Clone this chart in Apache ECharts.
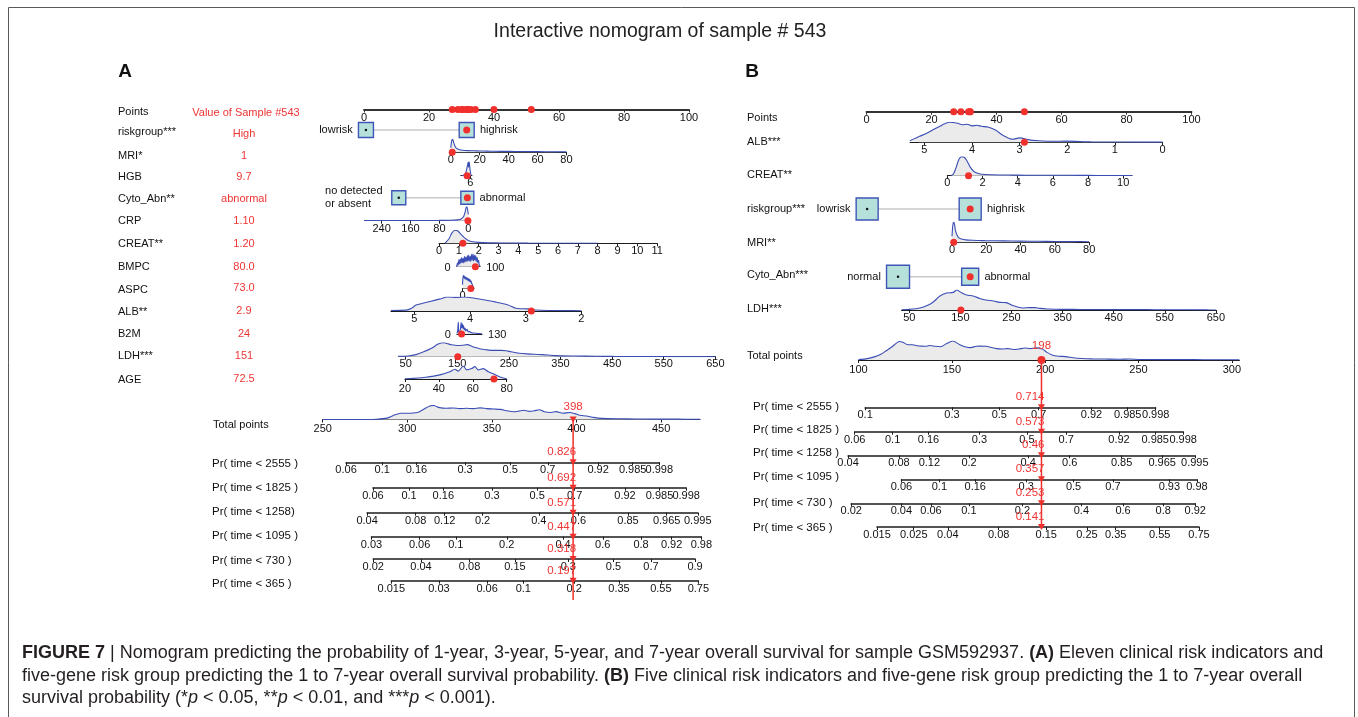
<!DOCTYPE html>
<html>
<head>
<meta charset="utf-8">
<script src="https://cdn.jsdelivr.net/npm/echarts@6/dist/echarts.min.js"></script>
<style>
html, body { margin: 0; padding: 0; background: #fff; }
#chart { width: 1358px; height: 717px; }
</style>
</head>
<body>
<div id="chart"></div>
<script>
// ================= Panel A data =================
const rowNamesA = ['riskgroup***', 'MRI*', 'HGB', 'Cyto_Abn**', 'CRP', 'CREAT**', 'BMPC', 'ASPC', 'ALB**', 'B2M', 'LDH***', 'AGE'];
const sampleTextA = ['High', '1', '9.7', 'abnormal', '1.10', '1.20', '80.0', '73.0', '2.9', '24', '151', '72.5'];

// categorical predictors: levels, points per level, level of the sample
const riskgroupA = { levels: ['lowrisk', 'highrisk'], points: [0.6, 31.6], pick: 1 };
const cytoA = { levels: ['no detected\nor absent', 'abnormal'], points: [10.7, 31.8], pick: 1 };

// continuous predictors: scale = [min, max, points at min, points at max]
const mriA = { scale: [0, 80, 26.7, 62.3], ticks: [0, 20, 40, 60, 80], value: 1,
  density: [[0,0.35],[0.5,0.8],[1,1],[1.5,0.95],[2,0.75],[3,0.45],[4,0.3],[6,0.2],[8,0.16],[12,0.13],[16,0.12],[20,0.1],[25,0.09],[30,0.08],[40,0.07],[50,0.06],[60,0.05],[70,0.04],[80,0.03]] };
const hgbA = { scale: [4, 17, 33.2, 29.8], ticks: [6], value: 9.7,
  density: [[5,0],[6,0.35],[7,0.9],[7.5,1],[8,0.6],[8.5,0.95],[9,0.8],[10,0.5],[11,0.25],[12,0.1],[14,0.03],[16,0]] };
const crpA = { scale: [0, 287, 32.1, 0.2], ticks: [0, 80, 160, 240], value: 1.10,
  density: [[0,0.45],[2,0.8],[4,1],[6,0.95],[9,0.6],[13,0.3],[20,0.12],[30,0.06],[50,0.03],[80,0.02],[120,0.015],[200,0.01],[287,0.01]] };
const creatA = { scale: [0, 11, 23.1, 90.2], ticks: [0,1,2,3,4,5,6,7,8,9,10,11], value: 1.20,
  density: [[0.3,0.02],[0.5,0.35],[0.65,0.8],[0.8,1],[0.95,0.95],[1.1,0.7],[1.3,0.4],[1.5,0.2],[1.8,0.1],[2.2,0.05],[2.8,0.03],[3.5,0.02],[4.5,0.01],[6,0.005],[8,0]] };
const bmpcA = { scale: [0, 100, 28.5, 35.7], ticks: [0, 100], value: 80.0,
  density: [[0,0],[4,0.3],[6,0.1],[10,0.55],[12,0.2],[16,0.6],[18,0.25],[22,0.7],[24,0.3],[28,0.65],[30,0.3],[34,0.8],[36,0.35],[40,0.75],[42,0.4],[46,0.85],[48,0.4],[52,0.9],[54,0.45],[58,0.8],[60,0.4],[64,0.95],[66,0.5],[70,1.0],[72,0.45],[76,0.9],[78,0.5],[82,0.85],[84,0.4],[88,0.7],[90,0.3],[94,0.5],[96,0.2],[100,0.05]] };
const aspcA = { scale: [0, 100, 30.3, 33.8], ticks: [0], value: 73.0,
  density: [[0,0.3],[4,0.8],[8,1],[12,0.85],[16,0.95],[20,0.75],[25,0.9],[30,0.7],[35,0.85],[40,0.65],[45,0.8],[50,0.6],[55,0.75],[60,0.55],[65,0.7],[70,0.5],[75,0.6],[80,0.4],[85,0.35],[90,0.2],[95,0.1],[100,0]] };
const albA = { scale: [2, 5.42, 66.9, 8.3], ticks: [2, 3, 4, 5], value: 2.9,
  density: [[2,0.02],[2.3,0.03],[2.6,0.04],[2.82,0.07],[2.97,0.15],[3.1,0.16],[3.18,0.2],[3.33,0.45],[3.55,0.65],[3.75,0.8],[3.97,0.95],[4.1,1],[4.25,0.97],[4.4,1],[4.55,0.85],[4.7,0.7],[4.85,0.55],[4.97,0.42],[5.05,0.2],[5.15,0.06],[5.42,0.04]] };
const b2mA = { scale: [0, 130, 28.6, 36.3], ticks: [0, 130], value: 24,
  density: [[0,0.05],[4,0.3],[7,1],[9,0.2],[13,0.15],[18,0.4],[22,0.95],[25,0.5],[28,0.85],[31,0.45],[34,0.7],[38,0.35],[42,0.5],[46,0.25],[52,0.4],[58,0.2],[66,0.2],[75,0.1],[90,0.08],[110,0.04],[130,0.02]] };
const ldhA = { scale: [36, 650, 10.6, 108.1], ticks: [50, 150, 250, 350, 450, 550, 650], value: 151,
  density: [[36,0.03],[55,0.05],[70,0.15],[85,0.35],[100,0.6],[113,0.9],[124,1],[132,0.92],[139,0.85],[150,0.8],[160,0.82],[170,0.86],[178,0.75],[185,0.65],[195,0.55],[205,0.5],[220,0.45],[235,0.45],[245,0.42],[254,0.35],[270,0.25],[285,0.2],[300,0.17],[315,0.15],[340,0.08],[376,0.05],[420,0.03],[453,0.02],[500,0.015],[530,0.01],[600,0.005],[650,0]] };
const ageA = { scale: [20, 80, 12.6, 43.9], ticks: [20, 40, 60, 80], value: 72.5,
  density: [[20,0.02],[25,0.05],[30,0.1],[33,0.15],[37,0.22],[40,0.3],[43,0.4],[46.5,0.55],[49.4,0.75],[51.4,0.6],[54.4,1.0],[56.4,0.7],[59.3,0.8],[61.3,0.95],[63.2,0.7],[66.2,0.8],[69.2,0.55],[72.1,0.4],[76,0.15],[80,0.02]] };

const totalA = 398;
const totalRangeA = [250, 473];
const totalTicksA = [250, 300, 350, 400, 450];
const totalDensityA = [[250,0],[275,0],[282,0.02],[288,0.1],[292,0.3],[296,0.45],[300,0.45],[306,0.5],[310,0.75],[313,0.95],[315.5,1],[319,0.85],[323,0.8],[327,0.82],[331,0.78],[335,0.8],[339,0.78],[343,0.83],[347,0.78],[351,0.75],[355,0.72],[359,0.62],[363,0.55],[366,0.6],[369,0.66],[372,0.58],[375,0.62],[378,0.7],[381,0.55],[385,0.5],[388,0.56],[392,0.45],[396,0.5],[399,0.42],[402,0.3],[406,0.25],[410,0.15],[415,0.08],[425,0.05],[435,0.04],[445,0.03],[455,0.03],[465,0.02],[473,0.02]];

const prNamesA = ['Pr( time < 2555 )', 'Pr( time < 1825 )', 'Pr( time < 1258)', 'Pr( time < 1095 )', 'Pr( time < 730 )', 'Pr( time < 365 )'];
const prAtTotalA = [0.826, 0.692, 0.571, 0.447, 0.318, 0.197];
const prTicksA = [
  [0.06, 0.1, 0.16, 0.3, 0.5, 0.7, 0.92, 0.985, 0.998],
  [0.06, 0.1, 0.16, 0.3, 0.5, 0.7, 0.92, 0.985, 0.998],
  [0.04, 0.08, 0.12, 0.2, 0.4, 0.6, 0.85, 0.965, 0.995],
  [0.03, 0.06, 0.1, 0.2, 0.4, 0.6, 0.8, 0.92, 0.98],
  [0.02, 0.04, 0.08, 0.15, 0.3, 0.5, 0.7, 0.9],
  [0.015, 0.03, 0.06, 0.1, 0.2, 0.35, 0.55, 0.75]
];
const betaA = 0.0249; // log-hazard change per total point

// ================= Panel B data =================
const rowNamesB = ['ALB***', 'CREAT**', 'riskgroup***', 'MRI**', 'Cyto_Abn***', 'LDH***'];

const albB = { scale: [0, 5.3, 91.1, 13.4], ticks: [0, 1, 2, 3, 4, 5], value: 2.9,
  density: [[0,0.01],[0.5,0.01],[1,0.015],[1.5,0.02],[2.05,0.06],[2.3,0.05],[2.6,0.08],[2.8,0.12],[3.0,0.22],[3.15,0.15],[3.35,0.35],[3.5,0.6],[3.65,0.75],[3.8,0.8],[3.9,0.85],[4.0,0.82],[4.1,0.9],[4.2,0.88],[4.3,0.95],[4.47,1],[4.6,0.9],[4.67,0.8],[4.8,0.65],[4.95,0.45],[5.1,0.3],[5.3,0.08]] };
const creatB = { scale: [0, 10.5, 24.9, 81.7], ticks: [0, 2, 4, 6, 8, 10], value: 1.20,
  density: [[0.2,0],[0.35,0.1],[0.5,0.45],[0.65,0.85],[0.8,1],[0.95,0.97],[1.1,0.8],[1.3,0.45],[1.5,0.22],[1.8,0.1],[2.2,0.06],[3,0.04],[4,0.03],[5,0.025],[6,0.02],[7,0.02],[8,0.015],[9,0.01],[10,0.01],[10.5,0.01]] };
const riskgroupB = { levels: ['lowrisk', 'highrisk'], points: [0.2, 31.9], pick: 1 };
const mriB = { scale: [0, 80, 26.3, 68.5], ticks: [0, 20, 40, 60, 80], value: 1,
  density: [[0,0.3],[0.5,0.85],[1,1],[1.5,0.9],[2,0.6],[3,0.35],[4,0.22],[6,0.15],[8,0.12],[12,0.1],[16,0.09],[20,0.08],[30,0.07],[40,0.06],[50,0.05],[60,0.04],[70,0.04],[80,0.03]] };
const cytoB = { levels: ['normal', 'abnormal'], points: [9.7, 31.9], pick: 1 };
const ldhB = { scale: [35, 650, 10.8, 107.5], ticks: [50, 150, 250, 350, 450, 550, 650], value: 151,
  density: [[35,0.01],[50,0.03],[71,0.1],[85,0.22],[97,0.4],[110,0.7],[123,0.85],[136,0.88],[143,1],[153,0.85],[162,0.75],[175,0.7],[188,0.58],[200,0.5],[215,0.45],[227,0.38],[240,0.37],[250,0.25],[262,0.15],[272,0.1],[285,0.12],[295,0.12],[305,0.08],[320,0.05],[350,0.03],[371,0.03],[400,0.025],[436,0.02],[470,0.02],[502,0.02],[530,0.015],[567,0.01],[600,0.01],[631,0.005],[650,0]] };

const totalB = 198;
const totalRangeB = [100, 304];
const totalTicksB = [100, 150, 200, 250, 300];
const totalDensityB = [[100,0.03],[104,0.06],[108,0.15],[112,0.3],[115,0.5],[118,0.7],[120.5,0.9],[122,0.97],[124,0.92],[126,0.82],[129,0.8],[131.5,0.75],[134,0.73],[136,0.72],[138,0.76],[141,0.72],[144,0.7],[147,0.85],[150.5,1],[154,0.82],[157,0.7],[160,0.65],[163,0.72],[165,0.73],[168.5,0.72],[171,0.66],[174,0.6],[177,0.58],[180,0.6],[183,0.55],[186,0.58],[189,0.63],[192,0.6],[195,0.64],[198.5,0.58],[201,0.4],[204,0.25],[207,0.2],[211,0.18],[215,0.12],[220,0.08],[225,0.06],[232,0.05],[240,0.04],[245,0.05],[250,0.03],[260,0.02],[270,0.02],[280,0.02],[290,0.01],[304,0.01]];

const prNamesB = ['Pr( time < 2555 )', 'Pr( time < 1825 )', 'Pr( time < 1258 )', 'Pr( time < 1095 )', 'Pr( time < 730 )', 'Pr( time < 365 )'];
const prAtTotalB = [0.714, 0.573, 0.46, 0.357, 0.253, 0.141];
const prTicksB = [
  [0.1, 0.3, 0.5, 0.7, 0.92, 0.985, 0.998],
  [0.06, 0.1, 0.16, 0.3, 0.5, 0.7, 0.92, 0.985, 0.998],
  [0.04, 0.08, 0.12, 0.2, 0.4, 0.6, 0.85, 0.965, 0.995],
  [0.06, 0.1, 0.16, 0.3, 0.5, 0.7, 0.93, 0.98],
  [0.02, 0.04, 0.06, 0.1, 0.2, 0.4, 0.6, 0.8, 0.92],
  [0.015, 0.025, 0.04, 0.08, 0.15, 0.25, 0.35, 0.55, 0.75]
];
const betaB = 0.0262;

// ================= styles =================
const FONT = '"Liberation Sans", Arial, Helvetica, sans-serif';
const BLUE = '#3a4db5';
const FILL = '#ebebeb';
const RED = '#f0302d';
const RED_TXT = '#f03535';
const AX = '#1c1c1c';
const TXT = '#111';

const grids = [], xAxes = [], yAxes = [], series = [], graphics = [];
const labelOnlyAxes = []; // appended after all grid axes so indices stay aligned

function addPanelGrid(rect, xa, ya) {
  grids.push(Object.assign({ outerBoundsMode: 'none', containLabel: false }, rect));
  const i = grids.length - 1;
  xAxes.push(Object.assign({ gridIndex: i, type: 'value', splitLine: { show: false } }, xa));
  yAxes.push(Object.assign({ gridIndex: i, type: 'value', min: 0, max: 1, show: false }, ya || {}));
  return i;
}

function labelStyle(extra) {
  return Object.assign({ margin: 2, fontSize: 11, fontFamily: FONT, color: TXT,
    showMinLabel: true, showMaxLabel: true, hideOverlap: false }, extra || {});
}

function numAxis(min, max, inverse, ticks, labelExtra, tickShow, labelValues) {
  return {
    min, max, inverse,
    axisLine: { onZero: false, lineStyle: { color: AX, width: 1.2 } },
    axisTick: { show: tickShow !== false, customValues: ticks, length: 3, lineStyle: { color: AX, width: 1 } },
    axisLabel: labelStyle(Object.assign({ customValues: labelValues || ticks }, labelExtra || {}))
  };
}

function text(x, y, str, extra) {
  graphics.push({ type: 'text', x, y, silent: true,
    style: Object.assign({ text: str, fontSize: 11, fontFamily: FONT, fill: TXT, verticalAlign: 'middle', align: 'left' }, extra || {}) });
}

const ptsOf = (s, v) => s[2] + (v - s[0]) / (s[1] - s[0]) * (s[3] - s[2]);
const cloglog = p => Math.log(-Math.log(1 - p));

function densitySeries(gi, data) {
  series.push({ type: 'line', xAxisIndex: gi, yAxisIndex: gi, data, symbol: 'none', smooth: 0.25, silent: true,
    lineStyle: { color: BLUE, width: 1.1 }, areaStyle: { color: FILL, opacity: 1 }, z: 2 });
}

function redDot(gi, x, size, extra) {
  series.push(Object.assign({ type: 'scatter', xAxisIndex: gi, yAxisIndex: gi, data: [[x, 0]], symbolSize: size || 7,
    itemStyle: { color: RED, opacity: 1 }, clip: false, silent: true, z: 6 }, extra || {}));
}

function redLabel(str, extra) {
  return Object.assign({ show: true, formatter: str, color: RED_TXT, fontSize: 11.5, fontFamily: FONT,
    textBorderWidth: 0, opacity: 1 }, extra || {});
}

// Builds one nomogram panel.
function buildPanel(P) {
  const contrib = [];
  P.rows.forEach(r => {
    if (r.cat) {
      const c = r.cat;
      const gi = addPanelGrid({ left: P.ptsX0, top: r.y - 12, width: 100 * P.ptsPx, height: 24 },
        { min: 0, max: 100, show: false }, { min: -1, max: 1 });
      series.push({ type: 'line', xAxisIndex: gi, yAxisIndex: gi, symbol: 'none', silent: true, z: 2,
        data: c.points.map(p => [p, 0]), lineStyle: { color: '#c9c9c9', width: 1.5 } });
      series.push({ type: 'scatter', xAxisIndex: gi, yAxisIndex: gi, symbol: 'rect', clip: false, silent: true, z: 3,
        itemStyle: { color: '#b5e1da', borderColor: '#3f55b8', borderWidth: 1.4, opacity: 1 },
        data: c.points.map((p, k) => ({
          value: [p, 0], symbolSize: r.box[k],
          label: { show: true, position: k === 0 ? 'left' : 'right', distance: k === 0 ? r.gapL : 5,
            formatter: r.richLabel && k === 0 ? c.levels[k].split('\n').map(s => '{a|' + s + '}').join('\n') : c.levels[k],
            fontSize: 11, fontFamily: FONT, color: TXT, lineHeight: 13, textBorderWidth: 0,
            rich: { a: { width: r.richW || 0, align: 'left', fontSize: 11, fontFamily: FONT, color: TXT, lineHeight: 13 } } }
        })) });
      series.push({ type: 'scatter', xAxisIndex: gi, yAxisIndex: gi, clip: false, silent: true, z: 4,
        data: c.points.map((p, k) => ({ value: [p, 0], symbolSize: k === c.pick ? 7 : 2.5,
          itemStyle: { color: k === c.pick ? RED : '#111', opacity: 1 } })) });
      contrib.push(c.points[c.pick]);
    } else {
      const v = r.num, s = v.scale;
      const left = P.ptsX0 + Math.min(s[2], s[3]) * P.ptsPx;
      const width = Math.abs(s[3] - s[2]) * P.ptsPx;
      let labelExtra = { margin: r.margin != null ? r.margin : 2 };
      let tickShow = true;
      if (r.endLabels) {
        tickShow = false;
        labelExtra = { margin: 1, verticalAlign: 'middle', alignMinLabel: 'right', alignMaxLabel: 'left',
          formatter: val => (val === s[0] ? val + '  ' : '  ' + val) };
      }
      const gi = addPanelGrid({ left, top: r.y - r.h, width, height: r.h },
        numAxis(s[0], s[1], s[2] > s[3], v.ticks, labelExtra, tickShow));
      densitySeries(gi, v.density);
      redDot(gi, v.value);
      contrib.push(ptsOf(s, v.value));
    }
  });

  // Points scale with each predictor's contribution
  const gp = addPanelGrid({ left: P.ptsX0, top: P.ptsY - 8, width: 100 * P.ptsPx, height: 8 }, {
    min: 0, max: 100,
    axisLine: { onZero: false, lineStyle: { color: '#333', width: 1.8 } },
    axisTick: { customValues: [0, 20, 40, 60, 80, 100], length: 3, lineStyle: { color: '#333' } },
    axisLabel: labelStyle({ customValues: [0, 20, 40, 60, 80, 100], margin: 3 })
  });
  series.push({ type: 'scatter', xAxisIndex: gp, yAxisIndex: gp, data: contrib.map(p => [p, 0]), symbolSize: 7,
    itemStyle: { color: RED, opacity: 1 }, clip: false, silent: true, z: 6 });

  // Total points
  const T = P.total;
  const tWidth = (T.range[1] - T.range[0]) * T.px;
  const gt = addPanelGrid({ left: T.left, top: T.y - T.h, width: tWidth, height: T.h },
    numAxis(T.range[0], T.range[1], false, T.ticks, { margin: 4 }));
  densitySeries(gt, T.density);
  redDot(gt, T.value, T.markerSize, { symbol: T.marker, symbolRotate: T.marker === 'triangle' ? 180 : 0,
    label: redLabel(String(T.value), { position: 'top', distance: 4 }) });

  // Vertical reading line through the probability scales
  const gl = addPanelGrid({ left: T.left, top: T.y, width: tWidth, height: P.lineBottom - T.y },
    { min: T.range[0], max: T.range[1], show: false });
  series.push({ type: 'line', xAxisIndex: gl, yAxisIndex: gl, data: [[T.value, 0], [T.value, 1]], symbol: 'none',
    silent: true, z: 4, lineStyle: { color: RED, width: 1.5 } });

  // Probability scales (complementary log-log in total points)
  P.pr.at.forEach((pAt, i) => {
    const ticks = P.pr.ticks[i];
    const tpOf = p => T.value + (cloglog(p) - cloglog(pAt)) / P.pr.beta;
    const tp = ticks.map(tpOf);
    const last = tp.length - 1;
    const y = P.pr.ys[i];
    const left = T.left + (tp[0] - T.range[0]) * T.px;
    const width = (tp[last] - tp[0]) * T.px;
    const probFormatter = val => {
      let best = 0;
      tp.forEach((t, k) => { if (Math.abs(t - val) < Math.abs(tp[best] - val)) best = k; });
      return String(ticks[best]);
    };
    const probLabel = { margin: 2.5, fontSize: 11, formatter: probFormatter };
    const gi = addPanelGrid({ left, top: y - 10, width, height: 10 },
      numAxis(tp[0], tp[last], false, tp, probLabel, true, tp.slice(0, last)));
    xAxes[gi].axisLine.lineStyle.width = 1.5;
    // the end label sits on its own label-only axis so it is never dropped for crowding
    labelOnlyAxes.push({ gridIndex: gi, type: 'value', position: 'bottom', min: tp[0], max: tp[last],
      axisLine: { show: false }, axisTick: { show: false }, splitLine: { show: false },
      axisLabel: labelStyle(Object.assign({ customValues: [tp[last]] }, probLabel)) });
    redDot(gi, T.value, [7, 6], { symbol: 'triangle', symbolRotate: 180,
      label: redLabel(String(pAt), { position: 'top', align: 'right', distance: 1, offset: [3, 0] }) });
  });

  // Row titles and sample values
  P.labels.forEach(l => text(l[0], l[1], l[2], l[3]));
}

// ================= Panel A layout =================
buildPanel({
  ptsX0: 364, ptsPx: 3.25, ptsY: 109.5,
  rows: [
    { cat: riskgroupA, y: 130, box: [15, 15], gapL: 5 },
    { num: mriA, y: 152.3, h: 13 },
    { num: hgbA, y: 175.7, h: 14 },
    { cat: cytoA, y: 197.7, box: [14, 13], gapL: 8, richLabel: true, richW: 58 },
    { num: crpA, y: 220.7, h: 14, margin: 3 },
    { num: creatA, y: 243.3, h: 13 },
    { num: bmpcA, y: 266.7, h: 13, endLabels: true },
    { num: aspcA, y: 288.5, h: 13 },
    { num: albA, y: 311, h: 14 },
    { num: b2mA, y: 334, h: 12, endLabels: true },
    { num: ldhA, y: 356.7, h: 14 },
    { num: ageA, y: 379, h: 13, margin: 4 }
  ],
  total: { left: 322.7, px: 1.692, y: 419.5, h: 14, range: totalRangeA, ticks: totalTicksA, density: totalDensityA,
    value: totalA, marker: 'triangle', markerSize: [7, 6] },
  lineBottom: 600,
  pr: { at: prAtTotalA, ticks: prTicksA, beta: betaA, ys: [462.3, 487.7, 512.7, 536.7, 559, 580.7] },
  labels: [].concat(
    [[118, 112, 'Points'], [246, 113, 'Value of Sample #543', { align: 'center', fill: RED_TXT }]],
    rowNamesA.map((n, i) => [118, [131.5, 156, 177, 199, 221, 244, 267, 289.5, 312, 334, 356, 380][i], n]),
    sampleTextA.map((v, i) => [244, [133.5, 156, 177, 199, 221, 244, 267, 288, 311, 333.5, 355.5, 379][i], v, { align: 'center', fill: RED_TXT }]),
    [[213, 425, 'Total points']],
    prNamesA.map((n, i) => [212, [464.3, 488.3, 512.3, 536, 560.7, 584][i], n, { fontSize: 11.5 }])
  )
});

// ================= Panel B layout =================
buildPanel({
  ptsX0: 866.5, ptsPx: 3.25, ptsY: 111.7,
  rows: [
    { num: albB, y: 142.3, h: 20 },
    { num: creatB, y: 175.7, h: 19 },
    { cat: riskgroupB, y: 209, box: [22, 22], gapL: 5 },
    { num: mriB, y: 242.3, h: 20 },
    { cat: cytoB, y: 276.7, box: [23, 17], gapL: 5 },
    { num: ldhB, y: 310, h: 20 }
  ],
  total: { left: 858.5, px: 1.867, y: 360, h: 19, range: totalRangeB, ticks: totalTicksB, density: totalDensityB,
    value: totalB, marker: 'circle', markerSize: 8 },
  lineBottom: 528,
  pr: { at: prAtTotalB, ticks: prTicksB, beta: betaB, ys: [407.3, 431.7, 455.3, 479.3, 503.3, 527] },
  labels: [].concat(
    [[747, 118, 'Points']],
    rowNamesB.map((n, i) => [747, [141.7, 175, 209.3, 243.3, 275, 309][i], n]),
    [[747, 355.7, 'Total points']],
    prNamesB.map((n, i) => [753, [406.7, 430, 453.3, 476.7, 502.7, 528.3][i], n, { fontSize: 11.5 }])
  )
});

xAxes.push(...labelOnlyAxes);

// ================= figure title, panel tags, caption, frame =================
graphics.push({ type: 'rect', silent: true, shape: { x: 8.5, y: 7.5, width: 1346, height: 730 },
  style: { fill: 'none', stroke: '#5a5a5a', lineWidth: 1 } });
text(660, 32, 'Interactive nomogram of sample # 543', { align: 'center', fontSize: 19.5, fill: '#222' });
text(125, 72, 'A', { align: 'center', fontSize: 19, fontWeight: 'bold', fill: '#111' });
text(752, 72, 'B', { align: 'center', fontSize: 19, fontWeight: 'bold', fill: '#111' });

const CAP = 18;
const capStyle = { fontSize: CAP, fill: '#231f20', rich: {
  b: { fontWeight: 'bold', fontSize: CAP, fontFamily: FONT, fill: '#231f20' },
  i: { fontStyle: 'italic', fontSize: CAP, fontFamily: FONT, fill: '#231f20' } } };
text(22, 653, '{b|FIGURE 7} | Nomogram predicting the probability of 1-year, 3-year, 5-year, and 7-year overall survival for sample GSM592937. {b|(A)} Eleven clinical risk indicators and', capStyle);
text(22, 676, 'five-gene risk group predicting the 1 to 7-year overall survival probability. {b|(B)} Five clinical risk indicators and five-gene risk group predicting the 1 to 7-year overall', capStyle);
text(22, 698, 'survival probability (*{i|p} < 0.05, **{i|p} < 0.01, and ***{i|p} < 0.001).', capStyle);

const chart = echarts.init(document.getElementById('chart'), null, { renderer: 'canvas' });
chart.setOption({
  animation: false,
  backgroundColor: '#fff',
  textStyle: { fontFamily: FONT },
  grid: grids,
  xAxis: xAxes,
  yAxis: yAxes,
  series: series,
  graphic: { elements: graphics }
});
</script>
</body>
</html>
